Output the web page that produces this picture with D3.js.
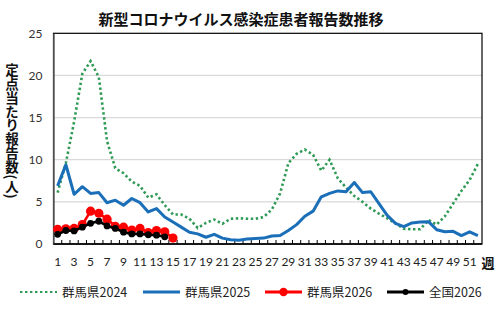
<!DOCTYPE html>
<html>
<head>
<meta charset="utf-8">
<script src="https://cdn.jsdelivr.net/npm/d3@7"></script>
<style>
  html, body { margin: 0; padding: 0; background: #fff; }
  svg { display: block; }
</style>
</head>
<body>
<div id="chart"></div>
<script>
// Weekly COVID-19 reports per sentinel site (Gunma prefecture and national)
const weeks = d3.range(1, 53);
const xTickLabels = d3.range(1, 53, 2);
const yTicks = [0, 5, 10, 15, 20, 25];

const gunma2024 = [6.1, 9.6, 14.5, 20.2, 21.7, 19.8, 12.2, 9.0, 8.4, 7.4,
  6.9, 5.5, 5.9, 4.6, 3.5, 3.5, 3.0, 1.9, 2.5, 2.9,
  2.4, 3.0, 3.05, 3.0, 3.0, 3.2, 4.1, 6.0, 9.6, 10.7,
  11.2, 10.6, 8.7, 10.0, 7.8, 6.7, 5.7, 5.0, 4.2, 3.6,
  3.05, 2.45, 1.8, 1.75, 1.75, 2.85, 2.3, 3.3, 4.8, 6.3,
  7.6, 9.5];
const gunma2025 = [6.9, 9.4, 5.9, 6.8, 6.0, 6.1, 4.9, 5.2, 4.6, 5.4,
  4.9, 3.8, 4.2, 3.2, 2.6, 2.0, 1.4, 1.2, 0.8, 1.15,
  0.7, 0.5, 0.45, 0.6, 0.65, 0.7, 0.95, 1.0, 1.6, 2.3,
  3.3, 3.9, 5.6, 6.0, 6.3, 6.2, 7.3, 6.1, 6.2, 4.8,
  3.4, 2.45, 2.05, 2.5, 2.6, 2.65, 1.7, 1.45, 1.5, 1.0,
  1.45, 1.0];
const gunma2026 = [1.75, 1.8, 1.85, 2.3, 3.9, 3.65, 2.95, 2.1, 2.0, 1.65,
  1.85, 1.35, 1.6, 1.45, 0.7];
const national2026 = [1.15, 1.6, 1.55, 2.0, 2.45, 2.7, 2.15, 1.85, 1.4, 1.2,
  1.2, 1.1, 1.05, 0.85];

const seriesNames = ["群馬県2024", "群馬県2025", "群馬県2026", "全国2026"];
const yTitle = "定点当たり報告数(人)";
const colors = { g24: "#2f9a55", g25: "#1a6fb8", g26: "#ff0000", n26: "#000000" };

const W = 500, H = 323;
const plot = { left: 53.5, right: 482, top: 33.3, bottom: 244 };

const svg = d3.select("#chart").append("svg")
  .attr("width", W).attr("height", H);

const x = d3.scaleBand().domain(weeks).range([plot.left, plot.right]).padding(0);
const y = d3.scaleLinear().domain([0, 25]).range([plot.bottom, plot.top]);
const cx = w => x(w) + x.bandwidth() / 2;

const numFont = "Lato, 'Liberation Sans', sans-serif";
const cjkFont = "'Noto Sans CJK JP', 'Noto Sans', sans-serif";

// Title
svg.append("text")
  .attr("x", 241).attr("y", 25)
  .attr("text-anchor", "middle")
  .attr("font-family", cjkFont).attr("font-weight", "bold")
  .attr("font-size", 15).attr("fill", "#111")
  .text("新型コロナウイルス感染症患者報告数推移");

// Horizontal gridlines
svg.append("g").selectAll("line")
  .data(yTicks.filter(t => t > 0 && t < 25))
  .join("line")
  .attr("x1", plot.left).attr("x2", plot.right)
  .attr("y1", d => y(d)).attr("y2", d => y(d))
  .attr("stroke", "#d9d9d9").attr("stroke-width", 1.2);

// Plot frame
svg.append("rect")
  .attr("x", plot.left).attr("y", plot.top)
  .attr("width", plot.right - plot.left).attr("height", plot.bottom - plot.top)
  .attr("fill", "none").attr("stroke", "#000").attr("stroke-width", 1.2);

// Y axis labels
const yAxis = d3.axisLeft(y).tickValues(yTicks).tickSize(0).tickPadding(11);
const gy = svg.append("g").attr("transform", `translate(${plot.left},0)`).call(yAxis);
gy.select(".domain").attr("stroke", "#666").attr("stroke-width", 1.5);
gy.selectAll("text").attr("font-family", numFont).attr("font-size", 12).attr("fill", "#333");

// X axis: ticks at week boundaries pointing into the plot, labels on odd weeks
const gx = svg.append("g");
gx.selectAll("line")
  .data(weeks.slice(1))
  .join("line")
  .attr("x1", d => x(d)).attr("x2", d => x(d))
  .attr("y1", plot.bottom).attr("y2", plot.bottom - 4)
  .attr("stroke", "#000").attr("stroke-width", 1);
gx.append("line")
  .attr("x1", plot.left).attr("x2", plot.right)
  .attr("y1", plot.bottom).attr("y2", plot.bottom)
  .attr("stroke", "#000").attr("stroke-width", 1.5);
gx.selectAll("text")
  .data(xTickLabels)
  .join("text")
  .attr("x", d => cx(d)).attr("y", plot.bottom + 22)
  .attr("text-anchor", "middle")
  .attr("font-family", numFont).attr("font-size", 12).attr("fill", "#222")
  .text(d => d);
svg.append("text")
  .attr("x", 488).attr("y", 268)
  .attr("text-anchor", "middle")
  .attr("font-family", cjkFont).attr("font-weight", "bold")
  .attr("font-size", 13).attr("fill", "#111")
  .text("週");

// Y axis title, set in vertical writing
svg.append("text")
  .attr("x", 12).attr("y", 63)
  .style("writing-mode", "vertical-rl")
  .attr("font-family", cjkFont).attr("font-weight", "bold")
  .attr("font-size", 13.5).attr("letter-spacing", 0.4).attr("fill", "#111")
  .text(yTitle);

const line = d3.line().x((d, i) => cx(i + 1)).y(d => y(d));

// 2024 (dotted)
svg.append("path").datum(gunma2024)
  .attr("d", line).attr("fill", "none")
  .attr("stroke", colors.g24).attr("stroke-width", 2.6)
  .attr("stroke-dasharray", "2.4,2.6");

// 2025
svg.append("path").datum(gunma2025)
  .attr("d", line).attr("fill", "none")
  .attr("stroke", colors.g25).attr("stroke-width", 3)
  .attr("stroke-linejoin", "round");

// 2026 Gunma
svg.append("path").datum(gunma2026)
  .attr("d", line).attr("fill", "none")
  .attr("stroke", colors.g26).attr("stroke-width", 2.6);
svg.append("g").selectAll("circle").data(gunma2026).join("circle")
  .attr("cx", (d, i) => cx(i + 1)).attr("cy", d => y(d))
  .attr("r", 4.6).attr("fill", colors.g26);

// 2026 national
svg.append("path").datum(national2026)
  .attr("d", line).attr("fill", "none")
  .attr("stroke", colors.n26).attr("stroke-width", 2.6);
svg.append("g").selectAll("circle").data(national2026).join("circle")
  .attr("cx", (d, i) => cx(i + 1)).attr("cy", d => y(d))
  .attr("r", 3.4).attr("fill", colors.n26);

// Legend
const legendY = 292;
const legendItems = [
  { name: seriesNames[0], color: colors.g24, x0: 20, dash: "2.4,2.6", marker: 0 },
  { name: seriesNames[1], color: colors.g25, x0: 143, dash: null, marker: 0 },
  { name: seriesNames[2], color: colors.g26, x0: 265, dash: null, marker: 4.2 },
  { name: seriesNames[3], color: colors.n26, x0: 387, dash: null, marker: 3 }
];
const lg = svg.append("g").selectAll("g").data(legendItems).join("g");
lg.append("line")
  .attr("x1", d => d.x0).attr("x2", d => d.x0 + 37)
  .attr("y1", legendY).attr("y2", legendY)
  .attr("stroke", d => d.color)
  .attr("stroke-width", d => d.dash ? 2 : 3)
  .attr("stroke-dasharray", d => d.dash);
lg.filter(d => d.marker > 0).append("circle")
  .attr("cx", d => d.x0 + 18.5).attr("cy", legendY)
  .attr("r", d => d.marker).attr("fill", d => d.color);
lg.append("text")
  .attr("x", d => d.x0 + 42).attr("y", legendY + 4.5)
  .attr("font-family", cjkFont).attr("font-size", 12.5).attr("fill", "#222")
  .text(d => d.name);
</script>
</body>
</html>
